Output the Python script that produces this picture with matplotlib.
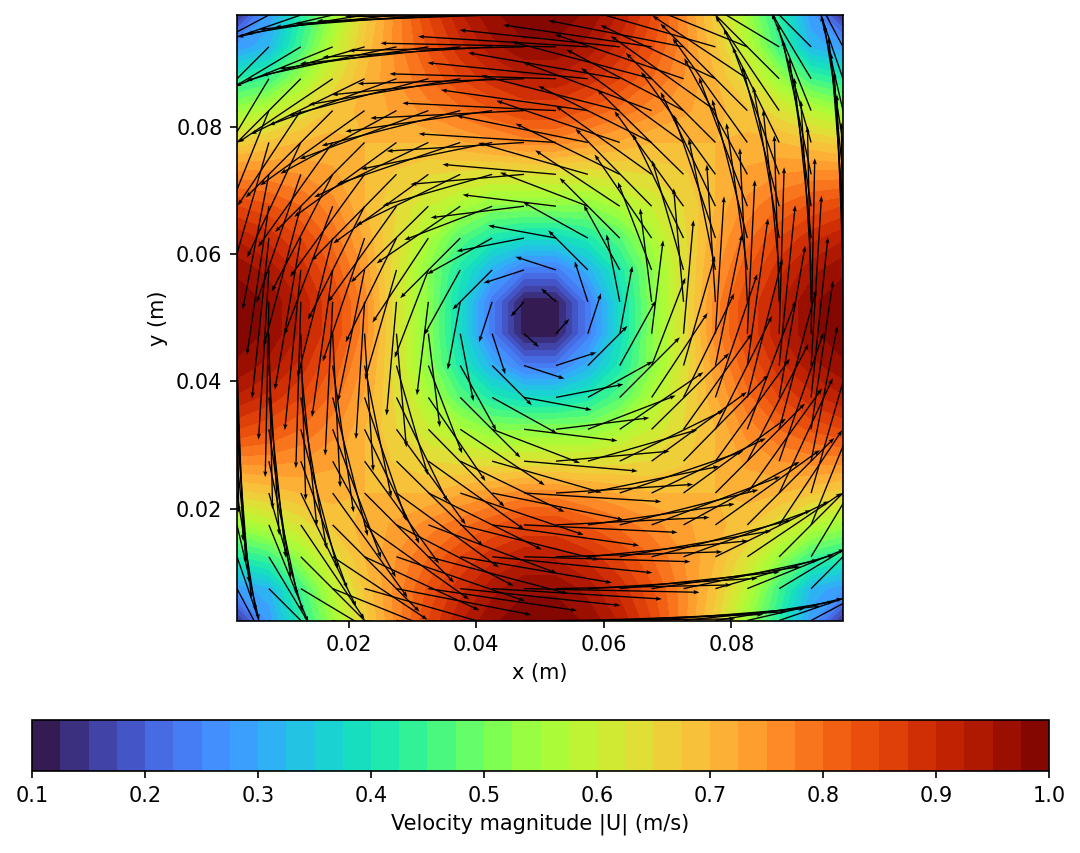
import numpy as np
import matplotlib
matplotlib.use("Agg")
import matplotlib.pyplot as plt

x_cells = [0.0025, 0.0075, 0.0125, 0.0175, 0.0225, 0.0275, 0.0325, 0.0375, 0.0425, 0.0475,
           0.0525, 0.0575, 0.0625, 0.0675, 0.0725, 0.0775, 0.0825, 0.0875, 0.0925, 0.0975]
y_cells = list(x_cells)

# speed, bottom row first
speed = [
 [.14,.28,.42,.54,.66,.76,.85,.92,.97,.99,.99,.97,.92,.85,.76,.66,.54,.42,.28,.14],
 [.28,.32,.45,.58,.68,.76,.83,.89,.94,.97,.97,.94,.89,.83,.76,.68,.58,.45,.32,.28],
 [.42,.45,.54,.63,.70,.75,.80,.85,.89,.92,.92,.89,.85,.80,.75,.70,.63,.54,.45,.42],
 [.54,.58,.63,.68,.71,.73,.76,.79,.82,.85,.85,.82,.79,.76,.73,.71,.68,.63,.58,.54],
 [.66,.68,.70,.71,.70,.70,.70,.72,.74,.76,.76,.74,.72,.70,.70,.70,.71,.70,.68,.66],
 [.76,.76,.75,.73,.70,.67,.65,.64,.63,.63,.63,.63,.64,.65,.67,.70,.73,.75,.76,.76],
 [.85,.83,.80,.76,.70,.65,.60,.56,.52,.52,.52,.52,.56,.60,.65,.70,.76,.80,.83,.85],
 [.92,.89,.85,.79,.72,.64,.56,.47,.41,.38,.38,.41,.47,.56,.64,.72,.79,.85,.89,.92],
 [.97,.94,.89,.82,.74,.63,.52,.41,.31,.235,.235,.31,.41,.52,.63,.74,.82,.89,.94,.97],
 [.99,.97,.92,.85,.76,.63,.52,.38,.235,.11,.11,.235,.38,.52,.63,.76,.85,.92,.97,.99],
 [.99,.97,.92,.85,.76,.63,.52,.38,.235,.11,.11,.235,.38,.52,.63,.76,.85,.92,.97,.99],
 [.97,.94,.89,.82,.74,.63,.52,.41,.31,.235,.235,.31,.41,.52,.63,.74,.82,.89,.94,.97],
 [.92,.89,.85,.79,.72,.64,.56,.47,.41,.38,.38,.41,.47,.56,.64,.72,.79,.85,.89,.92],
 [.85,.83,.80,.76,.70,.65,.60,.56,.52,.52,.52,.52,.56,.60,.65,.70,.76,.80,.83,.85],
 [.76,.76,.75,.73,.70,.67,.65,.64,.63,.63,.63,.63,.64,.65,.67,.70,.73,.75,.76,.76],
 [.66,.68,.70,.71,.70,.70,.70,.72,.74,.76,.76,.74,.72,.70,.70,.70,.71,.70,.68,.66],
 [.54,.58,.63,.68,.71,.73,.76,.79,.82,.85,.85,.82,.79,.76,.73,.71,.68,.63,.58,.54],
 [.42,.45,.54,.63,.70,.75,.80,.85,.89,.92,.92,.89,.85,.80,.75,.70,.63,.54,.45,.42],
 [.28,.32,.45,.58,.68,.76,.83,.89,.94,.97,.97,.94,.89,.83,.76,.68,.58,.45,.32,.28],
 [.14,.28,.42,.54,.66,.76,.85,.92,.97,.99,.99,.97,.92,.85,.76,.66,.54,.42,.28,.14],
]

# flow direction in degrees read from the arrows, bottom row first
direction = [
 [-45,-28,-19,-13,-9,-6,-4.5,-3,-2,-.5, .5,2,3,4.5,6,9,13,19,28,45],
 [-62,-45,-31,-22,-16,-11,-8.4,-6,-3.5,-1.2, 1.2,3.5,6,8.4,12,16,22,31,45,62],
 [-71,-59,-45,-33.6,-25,-19,-14.8,-9.7,-5.7,-1.7, 1.7,5.7,9.7,14.8,20,26,34,45,59,71],
 [-77,-68,-56,-45,-35.5,-27.5,-20.6,-14.2,-8,-2.8, 2.8,8.1,14.2,20.6,28.5,35.6,45,56.4,68,77],
 [-81,-74,-64,-54.4,-45,-36,-26.5,-18.7,-11.5,-3.6, 3.6,11.5,18.7,25.6,36,45,54.5,65,74,81],
 [-84,-78,-70,-61.5,-54,-44.5,-35.5,-26,-16,-5, 5,16,26,36,45.5,54,62.5,71,79,84],
 [-85.5,-81.6,-75.2,-69.4,-64.4,-54,-45.5,-33.5,-21,-7, 7,21,34.3,44.5,54.5,63.5,69.4,75.2,81.6,85.5],
 [-87,-84,-80.3,-75.8,-71.3,-64,-55.7,-45,-29,-10.5, 11,29,45,56.5,64,71.3,75.8,80.3,84,87],
 [-88,-86.5,-84.3,-81.9,-78.5,-74,-69,-61,-45,-18, 18,45,61,69,74,78.5,82,84.3,86.5,88],
 [-89.5,-88.8,-88.3,-87.2,-86.4,-85,-83,-79,-72,-42, 48,72,79.5,83,85,86.4,87.2,88.3,88.8,89.5],
 [-90.5,-91.2,-91.7,-92.8,-93.6,-95,-97,-100.5,-108,-132, 138,108,101,97,95,93.6,92.8,91.7,91.2,90.5],
 [-92,-93.5,-95.7,-98,-101.5,-106,-111,-119,-135,-162, 162,135,119,111,106,101.5,98.1,95.7,93.5,92],
 [-93,-96,-99.7,-104.2,-108.7,-116,-123.5,-135,-151,-169, 169.5,151,135,124.3,116,108.7,104.2,99.7,96,93],
 [-94.5,-98.4,-104.8,-110.6,-116.5,-125.5,-135.5,-145.7,-159,-173, 173,159,146.5,134.5,126,115.6,110.6,104.8,98.4,94.5],
 [-96,-101,-109,-117.5,-126,-134.5,-144,-154,-164,-175, 175,164,154,144.5,135.5,126,118.5,110,102,96],
 [-99,-106,-115,-125.5,-135,-144,-154.4,-161.3,-168.5,-176.4, 176.4,168.5,161.3,153.5,144,135,125.6,116,106,99],
 [-103,-112,-123.6,-135,-144.4,-151.5,-159.4,-165.8,-171.9,-177.2, 177.2,172,165.8,159.4,152.5,144.5,135,124,112,103],
 [-109,-121,-135,-146,-154,-160,-165.2,-170.3,-174.3,-178.3, 178.3,174.3,170.3,165.2,161,155,146.4,135,121,109],
 [-118,-135,-149,-158,-164,-168,-171.6,-174,-176.5,-178.8, 178.8,176.5,174,171.6,169,164,158,149,135,118],
 [-135,-152,-161,-167,-171,-174,-175.5,-177,-178,-179.5, 179.5,178,177,175.5,174,171,167,161,152,135],
]

bar_ticks = [0.1, 0.2, 0.3, 0.4, 0.5, 0.6, 0.7, 0.8, 0.9, 1.0]

W, H = 1080, 853
fig = plt.figure(figsize=(W / 150, H / 150), dpi=150)
ax = fig.add_axes([237 / W, 1 - 620.5 / H, 606 / W, 605.5 / H])
cax = fig.add_axes([32 / W, 1 - 771 / H, 1017 / W, 51 / H])

X, Y = np.meshgrid(x_cells, y_cells)
S = np.array(speed)
A = np.radians(np.array(direction))
U = S * np.cos(A)
V = S * np.sin(A)

levels = np.linspace(0.1, 1.0, 37)
cf = ax.contourf(X, Y, S, levels=levels, cmap="turbo")
ax.quiver(X, Y, U, V, color="black", pivot="tail", scale=3.35,
          width=0.0022, headwidth=3.2, headlength=4.5, headaxislength=4)
ax.set_xticks([0.02, 0.04, 0.06, 0.08])
ax.set_yticks([0.02, 0.04, 0.06, 0.08])
ax.set_xlabel("x (m)")
ax.set_ylabel("y (m)")

cb = fig.colorbar(cf, cax=cax, orientation="horizontal")
cb.set_ticks(bar_ticks)
cb.set_label("Velocity magnitude |U| (m/s)")

fig.savefig("out.png", dpi=150)
